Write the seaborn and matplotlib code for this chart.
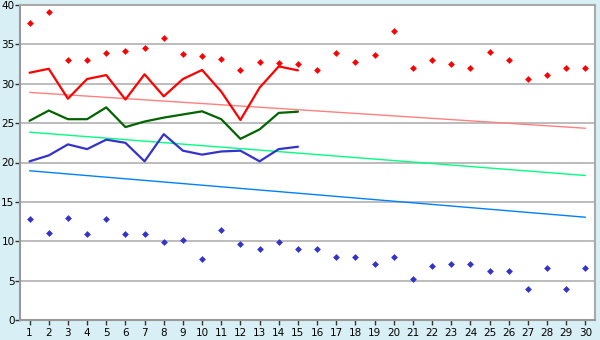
import numpy as np
import pandas as pd
import matplotlib
matplotlib.use("Agg")
import matplotlib.pyplot as plt
import seaborn as sns

days = list(range(1, 31))
line_days = list(range(1, 16))

high_pts = [37.7, 39.1, 33.0, 33.0, 33.9, 34.2, 34.5, 35.8, 33.8, 33.5,
            33.2, 31.8, 32.7, 32.6, 32.5, 31.7, 33.9, 32.7, 33.7, 36.7,
            32.0, 33.0, 32.5, 32.0, 34.0, 33.0, 30.6, 31.1, 32.0, 32.0]
low_pts = [12.8, 11.0, 13.0, 10.9, 12.8, 10.9, 10.9, 9.9, 10.2, 7.8,
           11.4, 9.7, 9.0, 9.9, 9.0, 9.0, 8.0, 8.0, 7.1, 8.0,
           5.2, 6.8, 7.1, 7.1, 6.2, 6.2, 4.0, 6.6, 3.9, 6.6]
red_line = [31.4, 31.9, 28.1, 30.6, 31.1, 28.0, 31.2, 28.4, 30.6, 31.75,
            29.0, 25.4, 29.5, 32.2, 31.7]
green_line = [25.3, 26.6, 25.5, 25.5, 27.0, 24.5, 25.2, 25.7, 26.1, 26.5,
              25.5, 23.0, 24.2, 26.3, 26.45]
blue_line = [20.15, 20.9, 22.3, 21.7, 22.9, 22.5, 20.15, 23.6, 21.5, 21.0,
             21.4, 21.5, 20.15, 21.7, 22.0]
trend_days = [1, 30]
trend_red = [28.9, 24.35]
trend_green = [23.85, 18.35]
trend_blue = [18.95, 13.05]
y_ticks = [0, 5, 10, 15, 20, 25, 30, 35, 40]

bg = "#d9eff6"
sns.set_theme(style="white")
plt.rcParams['font.family'] = ['DejaVu Sans']

fig = plt.figure(figsize=(6, 3.4), dpi=100, facecolor=bg)
ax = fig.add_axes([20/600, 20/340, 575/600, 315/340])
ax.set_facecolor("white")

for y in y_ticks[1:-1]:
    ax.axhline(y, color="#aaaaaa", lw=1.1, zorder=0)

sns.lineplot(x=trend_days, y=trend_red, ax=ax, color="#ff8080", lw=1.0)
sns.lineplot(x=trend_days, y=trend_green, ax=ax, color="#00ff80", lw=1.0)
sns.lineplot(x=trend_days, y=trend_blue, ax=ax, color="#0080ff", lw=1.0)

sns.lineplot(x=line_days, y=red_line, ax=ax, color="#ff0000", lw=1.6)
sns.lineplot(x=line_days, y=green_line, ax=ax, color="#006400", lw=1.6)
sns.lineplot(x=line_days, y=blue_line, ax=ax, color="#3333cc", lw=1.6)

sns.scatterplot(x=days, y=high_pts, ax=ax, color="#ff0000", marker="D", s=12,
                linewidth=0, zorder=5)
sns.scatterplot(x=days, y=low_pts, ax=ax, color="#3333cc", marker="D", s=12,
                linewidth=0, zorder=5)

ax.set_xlim(0.5, 30.5)
ax.set_ylim(0, 40)
ax.set_xticks(days)
ax.set_xticklabels([str(d) for d in days])
ax.set_yticks(y_ticks)
ax.tick_params(axis="both", labelsize=7.5, colors="black", length=3.5,
               width=1, direction="out", pad=1)
ax.tick_params(axis="x", color="#333333", pad=2)
ax.tick_params(axis="y", color="#333333", pad=0.5)
ax.xaxis.set_ticks_position("bottom")
ax.yaxis.set_ticks_position("left")
for side in ["top", "right"]:
    ax.spines[side].set_color("#aaaaaa")
    ax.spines[side].set_linewidth(1.5)
for side in ["left", "bottom"]:
    ax.spines[side].set_color("#999999")
    ax.spines[side].set_linewidth(1.5)
ax.set_xlabel("")
ax.set_ylabel("")

fig.savefig("out.png", dpi=100, facecolor=bg)
